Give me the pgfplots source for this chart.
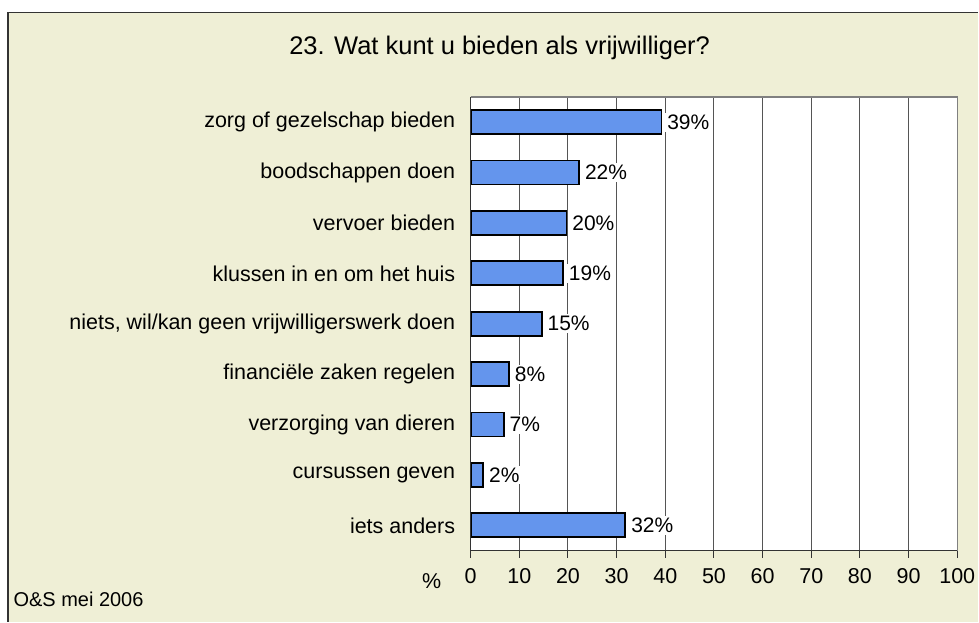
\documentclass[border=0pt]{standalone}
\usepackage{pgfplots}
\pgfplotsset{compat=1.18}
\usepackage{pgfplotstable}
\usepackage{fontspec}
\setmainfont{Liberation Sans}
\definecolor{bg}{RGB}{239,239,214}
\definecolor{barblue}{RGB}{100,149,237}
\definecolor{gridc}{RGB}{85,85,85}
\pgfplotstableread{
y val lab
0 39.2 39\%
1 22.3 22\%
2 19.7 20\%
3 19.0 19\%
4 14.6 15\%
5 7.9 8\%
6 6.8 7\%
7 2.6 2\%
8 31.8 32\%
}\datatab
\begin{document}
\begin{tikzpicture}[x=1pt,y=1pt]
\fill[white] (0,0) rectangle (979,622);
\fill[bg] (8,0) rectangle (979,609.5);
\draw[line width=1.5pt, color=black!80] (8,0) -- (8,609.5) -- (979,609.5);
\node[font=\fontsize{25.5}{29}\selectfont] at (500,574) {23. Wat kunt u bieden als vrijwilliger?};
\node[font=\fontsize{20}{24}\selectfont, anchor=west] at (10,22) {O\&S mei 2006};
\begin{axis}[
  at={(471pt,71pt)}, anchor=south west,
  width=487pt, height=454pt, scale only axis=true,
  xmin=0, xmax=100, ymin=-0.5, ymax=8.5,
  y dir=reverse,
  axis background/.style={fill=white},
  axis line style={draw=none},
  xtick={0,10,...,100},
  ytick={0,...,8},
  yticklabels={zorg of gezelschap bieden, boodschappen doen, vervoer bieden, klussen in en om het huis, {niets, wil/kan geen vrijwilligerswerk doen}, financiële zaken regelen, verzorging van dieren, cursussen geven, iets anders},
  extra y ticks={-0.5,0.5,...,8.5},
  extra y tick labels={},
  extra y tick style={major tick length=7pt, tick align=outside, tick style={draw=black!80, line width=1pt}},
  major y tick style={draw=none},
  x tick style={draw=black!80, line width=1pt},
  major tick length=7pt,
  tick align=outside,
  xtick pos=bottom, ytick pos=left,
  xmajorgrids=true,
  grid style={draw=gridc, line width=1pt},
  ticklabel style={font=\fontsize{21.5}{24}\selectfont},
  xticklabel style={yshift=-7pt},
  yticklabel style={xshift=-5pt},
  /pgf/number format/assume math mode=true,
  clip=false,
]
\addplot[xbar, bar width=24pt, fill=barblue, draw=black, line width=1.8pt,
  point meta=explicit symbolic,
  nodes near coords,
  nodes near coords style={anchor=west, fill=white, inner sep=2pt, xshift=3pt, font=\fontsize{21}{24}\selectfont, text=black}]
  table[x=val, y=y, meta=lab] {\datatab};
\draw[draw=black!50, line width=1.5pt] (axis cs:0,-0.5) -- (axis cs:100,-0.5) -- (axis cs:100,8.5);
\draw[draw=black!80, line width=1.5pt] (axis cs:0,-0.5) -- (axis cs:0,8.5) -- (axis cs:100,8.5);
\node[font=\fontsize{21.5}{24}\selectfont] at (axis cs:-8,8.5) [yshift=-31pt] {\%};
\end{axis}
\end{tikzpicture}
\end{document}
